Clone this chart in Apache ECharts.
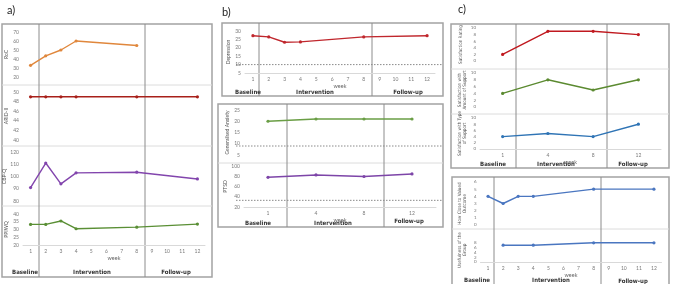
<!DOCTYPE html>
<html>
<head>
<meta charset="utf-8">
<script src="https://cdn.jsdelivr.net/npm/echarts@6/dist/echarts.min.js"></script>
<style>
html, body { margin: 0; padding: 0; background: #fff; }
#main { width: 675px; height: 284px; }
</style>
</head>
<body>
<div id="main"></div>
<script>
// ---- data ----
// a) weekly measures
var weekTicks = [1, 2, 3, 4, 5, 6, 7, 8, 9, 10, 11, 12];
var weeksA = [1, 2, 3, 4, 8, 12];
var rocWeeks = [1, 2, 3, 4, 8];
var rocValues = [33, 43.5, 50, 60, 55];
var aridValues = [49, 49, 49, 49, 49, 49];
var cbpqValues = [91, 111, 94, 103, 103.5, 98];
var ppiwqValues = [33.3, 33.3, 35.5, 30.5, 31.5, 33.5];

// b) symptoms
var depWeeks = [1, 2, 3, 4, 8, 12];
var depValues = [27.2, 26.5, 23.3, 23.5, 26.5, 27.2];
var visitWeeks = ['1', '4', '8', '12'];
var gaValues = [20, 21, 21, 21];
var ptsdValues = [78, 82.5, 79.5, 84.5];
var depCutoff = 10;
var gaCutoff = 9;
var ptsdCutoff = 33;

// c) satisfaction / outcome
var satRating = [2, 9, 9, 8];
var satAmount = [4, 8, 5, 8];
var satType = [4, 5, 4, 8];
var closeWeeks = [1, 2, 3, 4, 8, 12];
var closeValues = [4, 3, 4, 4, 5, 5];
var usefulWeeks = [2, 4, 8, 12];
var usefulValues = [7, 7, 8, 8];

var phases = ['Baseline', 'Intervention', 'Follow-up'];

// ---- layout of the small charts ----
var plots = [
    {left: 23, width: 182, top: 32, height: 45, min: 20, max: 70, step: 10, name: 'RoC', gap: 11, xs: rocWeeks, ys: rocValues, color: '#e0873c'},
    {left: 23, width: 182, top: 92, height: 48, min: 40, max: 50, step: 2, name: 'ARID-II', gap: 11, xs: weeksA, ys: aridValues, color: '#a8201a'},
    {left: 23, width: 182, top: 152, height: 49, min: 80, max: 120, step: 10, name: 'CBP-Q', gap: 11, xs: weeksA, ys: cbpqValues, color: '#8245ad'},
    {left: 23, width: 182, top: 214, height: 31, min: 20, max: 40, step: 5, name: 'PPIWQ', gap: 11, xs: weeksA, ys: ppiwqValues, color: '#5a8f35', showX: true, xGap: 10},

    {left: 245, width: 190, top: 31, height: 42, min: 5, max: 30, step: 5, name: 'Depression', gap: 12, xs: depWeeks, ys: depValues, color: '#c0272d', showX: true, xGap: 9},
    {left: 244, width: 192, top: 110, height: 45, min: 5, max: 25, step: 5, name: 'Generalised Anxiety', gap: 12, cats: visitWeeks, ys: gaValues, color: '#6a9e45'},
    {left: 244, width: 192, top: 166, height: 41, min: 20, max: 100, step: 20, name: 'PTSD', gap: 12, cats: visitWeeks, ys: ptsdValues, color: '#7d45a8', showX: true, xGap: 6},

    {left: 480, width: 181, top: 28, height: 33, min: 0, max: 10, step: 2, name: 'Satisfaction Rating', gap: 17, small: true, cats: visitWeeks, ys: satRating, color: '#c0191f'},
    {left: 480, width: 181, top: 73, height: 34, min: 0, max: 10, step: 2, name: 'Satisfaction with\nAmount of Support', gap: 13, small: true, cats: visitWeeks, ys: satAmount, color: '#5b8a30'},
    {left: 480, width: 181, top: 118, height: 31, min: 0, max: 10, step: 2, name: 'Satisfaction with Type\nof Support', gap: 13, small: true, cats: visitWeeks, ys: satType, color: '#2f74b5', showX: true, xGap: 4},

    {left: 480.5, width: 181, top: 182, height: 43, min: 0, max: 6, step: 1, name: 'How Close to Valued\nOutcome', gap: 13, small: true, xs: closeWeeks, ys: closeValues, color: '#4a76c0'},
    {left: 480.5, width: 181, top: 238, height: 24, min: 0, max: 10, step: 2, name: 'Usefulness of the\nGroup', gap: 13, small: true, xs: usefulWeeks, ys: usefulValues, color: '#4a76c0', showX: true, xGap: 9}
];

var font = 'Lato, "Open Sans", sans-serif';
var narrow = '"Liberation Sans Narrow", "DejaVu Sans Condensed", sans-serif';

var grids = [], xAxes = [], yAxes = [], series = [];
plots.forEach(function (p, i) {
    grids.push({left: p.left, top: p.top, width: p.width, height: p.height});
    var xa = {
        gridIndex: i,
        axisTick: {show: false},
        axisLine: {show: !!p.showX, lineStyle: {color: '#d9d9d9', width: 1}},
        splitLine: {show: false},
        axisLabel: {show: !!p.showX, margin: 4, fontSize: 5, color: '#7a7a7a', fontFamily: font},
        name: p.showX ? 'week' : '',
        nameLocation: 'middle',
        nameGap: p.xGap || 10,
        nameTextStyle: {fontSize: 5.5, color: '#666', fontFamily: font}
    };
    if (p.cats) {
        xa.type = 'category';
        xa.data = p.cats;
        xa.boundaryGap = true;
    } else {
        xa.type = 'value';
        xa.min = 0.5;
        xa.max = 12.5;
        xa.axisLabel.customValues = weekTicks;
    }
    xAxes.push(xa);
    yAxes.push({
        gridIndex: i,
        type: 'value',
        min: p.min,
        max: p.max,
        interval: p.step,
        axisLine: {show: false},
        axisTick: {show: false},
        splitLine: {show: false},
        axisLabel: {margin: 4, fontSize: p.small ? 4.5 : 5, color: '#7a7a7a', fontFamily: font},
        name: p.name,
        nameLocation: 'middle',
        nameRotate: 90,
        nameGap: p.gap,
        nameTextStyle: {
            fontSize: p.small ? 4.6 : 5,
            color: '#555',
            fontFamily: p.small ? narrow : font,
            lineHeight: 5
        }
    });
    series.push({
        type: 'line',
        xAxisIndex: i,
        yAxisIndex: i,
        data: p.cats ? p.ys : p.xs.map(function (x, k) { return [x, p.ys[k]]; }),
        symbol: 'circle',
        symbolSize: 3.2,
        color: p.color,
        lineStyle: {width: 1.4, color: p.color},
        itemStyle: {color: p.color},
        animation: false
    });
});

// boxes, phase separators, panel captions
var boxes = [[2, 24, 210, 253], [222, 23, 221, 73], [218, 104, 225, 123], [451, 24, 218, 144], [452, 177, 217, 110]];
var splits = [[39, 24, 277], [145, 24, 277], [259, 23, 96], [372, 23, 96], [287, 104, 227], [384, 104, 227],
              [516, 24, 168], [607, 24, 168], [494, 177, 284], [601, 177, 284]];
var rows = [[2, 212, 85], [2, 212, 146], [2, 212, 206], [218, 443, 163], [451, 669, 69], [451, 669, 114], [452, 669, 229]];
var phaseLabels = [
    [25, 272, 92, 272, 176, 272],
    [248, 92, 315, 92, 408, 92],
    [258, 223, 333, 223, 409, 221],
    [493, 164, 556, 164, 633, 164],
    [477, 280, 551, 280, 633, 281]
];

var graphics = [];
boxes.forEach(function (b) {
    graphics.push({type: 'rect', shape: {x: b[0], y: b[1], width: b[2], height: b[3]},
        style: {fill: 'none', stroke: '#a3a3a3', lineWidth: 1.5}, silent: true});
});
rows.forEach(function (r) {
    graphics.push({type: 'line', shape: {x1: r[0], y1: r[2], x2: r[1], y2: r[2]},
        style: {stroke: '#dcdcdc', lineWidth: 1}, silent: true});
});
splits.forEach(function (s) {
    graphics.push({type: 'line', shape: {x1: s[0], y1: s[1], x2: s[0], y2: s[2]},
        style: {stroke: '#8c8c8c', lineWidth: 1}, silent: true});
});
phaseLabels.forEach(function (row) {
    for (var k = 0; k < 3; k++) {
        graphics.push({type: 'text', x: row[k * 2], y: row[k * 2 + 1],
            style: {text: phases[k], fontSize: 6, fontWeight: 'bold', fill: '#333', fontFamily: narrow, align: 'center', verticalAlign: 'middle'}});
    }
});
[['a)', 7, 10], ['b)', 222, 12], ['c)', 458, 9]].forEach(function (t) {
    graphics.push({type: 'text', x: t[1], y: t[2],
        style: {text: t[0], fontSize: 11, fill: '#222', fontFamily: font, verticalAlign: 'middle'}});
});

var chart = echarts.init(document.getElementById('main'), null, {renderer: 'canvas'});
var option = {
    animation: false,
    grid: grids,
    xAxis: xAxes,
    yAxis: yAxes,
    series: series,
    graphic: graphics
};
chart.setOption(option);

// dotted clinical cut-off lines, placed through the y scales
[[4, depCutoff], [5, gaCutoff], [6, ptsdCutoff]].forEach(function (c) {
    var y = chart.convertToPixel({yAxisIndex: c[0]}, c[1]);
    graphics.push({type: 'line', shape: {x1: 236, y1: y, x2: 442, y2: y},
        style: {stroke: '#8a8a8a', lineWidth: 1, lineDash: [1.5, 1.5]}, silent: true});
});
chart.setOption({graphic: graphics});
</script>
</body>
</html>
